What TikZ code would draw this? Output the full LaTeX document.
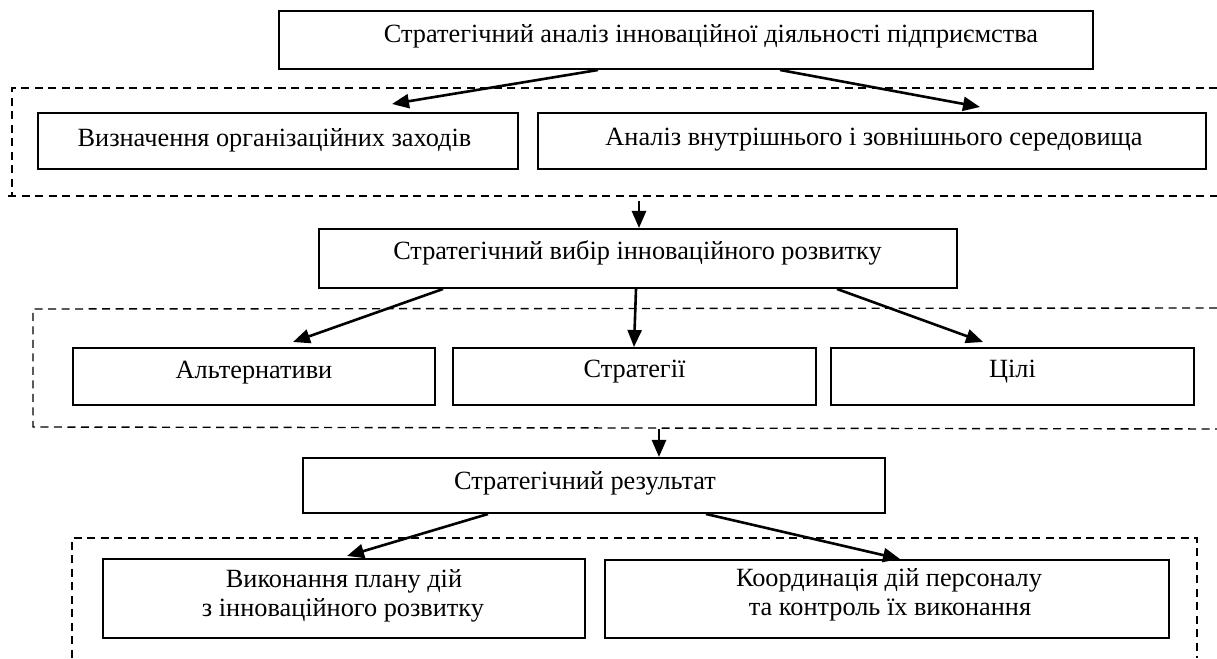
\documentclass[tikz,border=0pt]{standalone}
\usepackage{fontspec}
\setmainfont{Liberation Serif}
\usetikzlibrary{arrows.meta}
\begin{document}
\begin{tikzpicture}[x=1pt,y=1pt,
  box/.style={draw,line width=2pt,inner sep=0pt},
  txt/.style={anchor=base,inner sep=0pt,font=\fontsize{26.3}{29}\selectfont,align=center},
  arr/.style={line width=2.6pt,-{Triangle[length=17pt,width=14pt]}},
  grp/.style={line width=1.4pt,dash pattern=on 8pt off 5.5pt}]
\useasboundingbox (0,0) rectangle (1217,658);

% dashed frames around the sub-levels
\draw[grp] (1217,570) -- (12,570) -- (12,462);
\draw[grp] (8,462) -- (1217,462);
\draw[grp] (1217,350) -- (33,349) -- (33,231) -- (1217,229);
\draw[grp] (72,0) -- (72,120) -- (1197,120) -- (1197,0);

% boxes
\node[box,minimum width=814pt,minimum height=58pt] (top) at (686,618) {};
\node[box,minimum width=480pt,minimum height=56pt] (org) at (278,517) {};
\node[box,minimum width=668pt,minimum height=56pt] (env) at (872,517) {};
\node[box,minimum width=638pt,minimum height=59pt] (choice) at (638,399.5) {};
\node[box,minimum width=362pt,minimum height=57pt] (alt) at (254,281.5) {};
\node[box,minimum width=363pt,minimum height=57pt] (strat) at (634.5,281.5) {};
\node[box,minimum width=363pt,minimum height=57pt] (goal) at (1012.5,281.5) {};
\node[box,minimum width=582pt,minimum height=55pt] (res) at (594,172.5) {};
\node[box,minimum width=482pt,minimum height=79pt] (plan) at (344,59.5) {};
\node[box,minimum width=564pt,minimum height=78pt] (coord) at (887,59) {};

% labels
\node[txt] (topT) at (711,615) {Стратегічний аналіз інноваційної діяльності підприємства};
\node[txt] (orgT) at (274.5,511) {Визначення організаційних заходів};
\node[txt] (envT) at (874,512) {Аналіз внутрішнього і зовнішнього середовища};
\node[txt] (choiceT) at (637.5,398) {Стратегічний вибір інноваційного розвитку};
\node[txt] (altT) at (254,279) {Альтернативи};
\node[txt] (stratT) at (634.5,280) {Стратегії};
\node[txt] (goalT) at (1012.5,280) {Цілі};
\node[txt] (resT) at (585,168) {Стратегічний результат};
\node[txt] (planT) at (344,70) {Виконання плану дій};
\node[txt] (planT2) at (343,41) {з інноваційного розвитку};
\node[txt] (coordT) at (889,71) {Координація дій персоналу};
\node[txt] (coordT2) at (890,42) {та контроль їх виконання};

% free starts of the vertical connectors
\coordinate (d1) at (639,457);
\coordinate (d2) at (659,229);

% connectors
\draw[arr] ([xshift=-88pt]top.south) -- ([xshift=114pt,yshift=8pt]org.north);
\draw[arr] ([xshift=94pt]top.south) -- ([xshift=108pt,yshift=5pt]env.north);
\draw[arr] (d1) -- ([xshift=1pt]choice.north);
\draw[arr] ([xshift=-195pt]choice.south) -- ([xshift=39pt,yshift=5pt]alt.north);
\draw[arr] ([xshift=-2pt]choice.south) -- ([xshift=-0.5pt]strat.north);
\draw[arr] ([xshift=199pt]choice.south) -- ([xshift=-29.5pt,yshift=5pt]goal.north);
\draw[arr] (d2) -- (d2 |- res.north);
\draw[arr] ([xshift=-106pt]res.south) -- ([xshift=3pt,yshift=2pt]plan.north);
\draw[arr] ([xshift=112pt]res.south) -- ([xshift=13pt]coord.north);
\end{tikzpicture}
\end{document}
